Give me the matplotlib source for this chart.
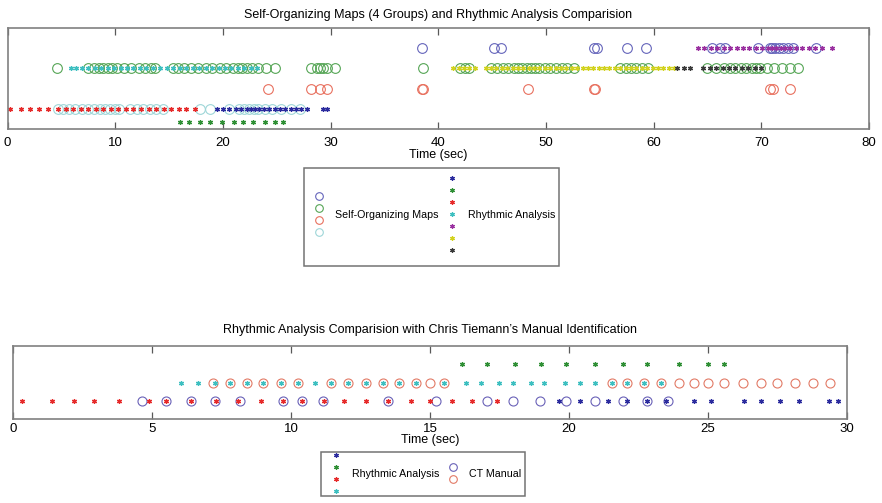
import numpy as np
import matplotlib
matplotlib.use("Agg")
import matplotlib.pyplot as plt
from matplotlib.legend_handler import HandlerBase
from matplotlib.lines import Line2D

plt.rcParams["font.family"] = ["Liberation Sans", "DejaVu Sans"]

# -----------------------------
# top chart: SOM groups (circles) vs rhythmic analysis (stars), time in sec
# -----------------------------
som1_t = [38.5, 45.2, 45.8, 54.5, 54.7, 57.5, 59.3, 65.4, 66.2, 66.6, 69.7, 70.8,
          71.0, 71.3, 71.6, 72.0, 72.5, 72.9, 75.1]
som2_t = [4.6, 7.5, 8.0, 8.5, 8.9, 9.3, 9.7, 10.2, 10.8, 11.5, 12.2, 12.8, 13.3, 13.7,
          15.4, 15.8, 16.4, 17.0, 17.7, 18.4, 19.0, 19.7, 20.3, 20.9, 21.4, 21.8,
          22.2, 22.7, 23.3, 24.0, 24.8, 28.2, 28.7, 29.0, 29.3, 29.7, 30.4, 38.6,
          42.0, 42.5, 42.9, 44.9, 45.5, 46.0, 46.5, 47.0, 47.4, 47.8, 48.2, 48.6,
          49.0, 49.4, 49.9, 50.4, 50.9, 51.5, 52.0, 52.6, 56.9, 57.4, 57.9, 58.4,
          58.9, 59.5, 65.0, 65.8, 66.5, 67.1, 67.6, 68.1, 68.6, 69.1, 69.5, 69.9,
          70.5, 71.2, 71.9, 72.7, 73.4]
som3_t = [24.2, 28.2, 29.0, 29.7, 38.5, 38.6, 48.3, 54.5, 54.6, 70.8, 71.1, 72.7]
som4_t = [4.7, 5.2, 5.7, 6.3, 6.9, 7.5, 8.0, 8.6, 9.1, 9.5, 10.0, 10.4, 11.4, 12.0,
          12.6, 13.2, 13.8, 14.4, 17.9, 18.8, 20.6, 21.5, 22.0, 22.4, 22.9, 23.3,
          23.9, 24.6, 25.4, 26.3, 27.2]

ra_blue_t = [19.5, 20.0, 20.6, 21.2, 21.7, 22.2, 22.6, 23.0, 23.4, 23.8, 24.3, 24.8,
             25.3, 25.8, 26.3, 26.8, 27.3, 27.8, 29.3, 29.7]
ra_green_t = [16.0, 16.9, 17.9, 18.8, 19.9, 21.0, 21.9, 22.8, 23.9, 24.8, 25.6]
ra_red_t = [0.2, 1.3, 2.1, 2.9, 3.8, 4.7, 5.4, 6.1, 6.8, 7.5, 8.2, 8.9, 9.6, 10.3,
            11.0, 11.7, 12.4, 13.1, 13.8, 14.5, 15.2, 15.9, 16.6, 17.4]
ra_cyan_t = [5.9, 6.4, 6.9, 7.5, 8.1, 8.7, 9.3, 9.9, 10.5, 11.1, 11.7, 12.3, 12.9,
             13.5, 14.2, 14.8, 15.4, 16.0, 16.6, 17.2, 17.8, 18.4, 19.0, 19.6, 20.2,
             20.8, 21.4, 22.0, 22.6, 23.2]
ra_purple_t = [64.1, 64.7, 65.3, 65.9, 66.5, 67.1, 67.7, 68.3, 68.9, 69.5, 70.1, 70.6,
               71.0, 71.4, 71.8, 72.2, 72.7, 73.2, 73.8, 74.4, 75.0, 75.6, 76.6]
ra_yellow_t = [41.4, 41.9, 42.4, 42.9, 43.4, 44.4, 44.9, 45.4, 45.9, 46.4, 46.9, 47.4,
               47.9, 48.4, 48.9, 49.4, 49.9, 50.4, 50.9, 51.4, 51.9, 52.4, 52.9, 53.4,
               53.9, 54.4, 54.9, 55.4, 55.9, 56.4, 56.9, 57.4, 57.9, 58.4, 58.9, 59.4,
               59.9, 60.4, 60.9, 61.4, 61.9]
ra_black_t = [62.2, 62.8, 63.4, 64.6, 65.2, 65.8, 66.4, 67.0, 67.6, 68.2, 68.8, 69.4,
              70.0]

# -----------------------------
# bottom chart: rhythmic analysis vs CT manual identification
# -----------------------------
b_ra_red_t = [0.3, 1.4, 2.2, 2.9, 3.8, 4.9, 5.5, 6.4, 7.3, 8.1, 8.9, 9.7, 10.4, 11.2,
              11.9, 12.7, 13.5, 14.3, 15.0, 15.8, 16.5, 17.4]
b_ra_blue_t = [19.65, 20.4, 21.4, 22.1, 22.8, 23.5, 24.5, 25.1, 26.3, 26.9, 27.6, 28.3,
               29.35, 29.7]
b_ra_cyan_t = [6.05, 6.65, 7.25, 7.8, 8.4, 9.0, 9.65, 10.25, 10.85, 11.45, 12.05, 12.7,
               13.3, 13.9, 14.5, 15.5, 16.3, 16.85, 17.5, 18.0, 18.65, 19.1, 19.85,
               20.4, 20.95, 21.55, 22.1, 22.7, 23.3]
b_ra_green_t = [16.15, 17.05, 18.05, 19.0, 19.9, 20.95, 21.95, 22.8, 23.95, 25.0, 25.6]
ct_blue_t = [4.65, 5.5, 6.4, 7.25, 8.15, 9.7, 10.4, 11.15, 13.5, 15.2, 17.05, 18.0,
             18.95, 19.9, 20.95, 21.95, 22.8, 23.55]
ct_red_t = [7.2, 7.8, 8.4, 9.0, 9.65, 10.25, 11.45, 12.05, 12.7, 13.3, 13.9, 14.5,
            15.0, 15.5, 21.55, 22.1, 22.7, 23.3, 23.95, 24.5, 25.0, 25.6, 26.25, 26.9,
            27.5, 28.15, 28.8, 29.4]

top_ticks = [0, 10, 20, 30, 40, 50, 60, 70, 80]
bottom_ticks = [0, 5, 10, 15, 20, 25, 30]

# colours
c_som = ["#6565bb", "#55a555", "#e8705e", "#9ed6d8"]
c_ra = ["#2b2b9e", "#2f8f35", "#e62a2a", "#3dbfc0", "#9a30a0", "#d2d21e", "#3a3a3a"]
c_ct = ["#6a62b8", "#e27a66"]

ASTER = (6, 2, 0)


def circles(ax, t, y, color, ms=7):
    ax.plot(t, np.full(len(t), y), ls="none", marker="o", ms=ms, mfc="none",
            mec=color, mew=0.8)


def stars(ax, t, y, color):
    ax.plot(t, np.full(len(t), y), ls="none", marker=ASTER, ms=3.6,
            mec=color, mew=0.9)


class StackHandler(HandlerBase):
    # draws a tuple of proxy markers as one vertical column, centred on the text
    def __init__(self, step):
        super().__init__()
        self.step = step

    def create_artists(self, legend, orig_handle, xdescent, ydescent,
                       width, height, fontsize, trans):
        n = len(orig_handle)
        cx = -xdescent + width / 2
        cy = 0.33 * fontsize
        out = []
        for i, h in enumerate(orig_handle):
            m = Line2D([cx], [cy + ((n - 1) / 2 - i) * self.step], ls="none",
                       marker=h.get_marker(), ms=h.get_markersize(),
                       mec=h.get_markeredgecolor(), mfc=h.get_markerfacecolor(),
                       mew=h.get_markeredgewidth())
            m.set_transform(trans)
            out.append(m)
        return out


def proxy_circle(c):
    return Line2D([], [], ls="none", marker="o", ms=5.5, mfc="none", mec=c, mew=0.8)


def proxy_star(c):
    return Line2D([], [], ls="none", marker=ASTER, ms=3.2, mec=c, mew=0.9)


def style_axes(ax, ticks, xmax, ylim, pad):
    ax.set_xlim(0, xmax)
    ax.set_ylim(*ylim)
    ax.set_xticks(ticks)
    ax.set_yticks([])
    ax.tick_params(axis="x", direction="in", top=True, length=5, width=0.9,
                   color="0.35", labelsize=9.5, pad=pad)
    for s in ax.spines.values():
        s.set_color("0.5")
        s.set_linewidth(1.2)


fig = plt.figure(figsize=(8.82, 5.03), dpi=100)

# top axes
ax1 = fig.add_axes([7.5 / 882, 1 - 129 / 503, 861.5 / 882, 101 / 503])
circles(ax1, som1_t, 4, c_som[0])
circles(ax1, som2_t, 3, c_som[1])
circles(ax1, som3_t, 2, c_som[2])
circles(ax1, som4_t, 1, c_som[3])
stars(ax1, ra_cyan_t, 3, c_ra[3])
stars(ax1, ra_yellow_t, 3, c_ra[5])
stars(ax1, ra_black_t, 3, c_ra[6])
stars(ax1, ra_purple_t, 4, c_ra[4])
stars(ax1, ra_red_t, 1, c_ra[2])
stars(ax1, ra_blue_t, 1, c_ra[0])
stars(ax1, ra_green_t, 0.35, c_ra[1])
style_axes(ax1, top_ticks, 80, (0, 5), 5.5)
ax1.set_title("Self-Organizing Maps (4 Groups) and Rhythmic Analysis Comparision",
              fontsize=9, pad=7)
ax1.set_xlabel("Time (sec)", fontsize=9, labelpad=0.5)

# bottom axes
ax2 = fig.add_axes([13.3 / 882, 1 - 419 / 503, 833.4 / 882, 73 / 503])
circles(ax2, ct_blue_t, 1, c_ct[0], ms=6.5)
circles(ax2, ct_red_t, 2, c_ct[1], ms=6.5)
stars(ax2, b_ra_red_t, 1, c_ra[2])
stars(ax2, b_ra_blue_t, 1, c_ra[0])
stars(ax2, b_ra_cyan_t, 2, c_ra[3])
stars(ax2, b_ra_green_t, 3, c_ra[1])
style_axes(ax2, bottom_ticks, 30, (0, 4), 3)
ax2.set_title("Rhythmic Analysis Comparision with Chris Tiemann\u2019s Manual Identification",
              fontsize=9, pad=9)
ax2.set_xlabel("Time (sec)", fontsize=9, labelpad=-1)

# legends
leg_kw = dict(loc="upper left", bbox_transform=fig.transFigure, borderaxespad=0,
              fontsize=7.7, frameon=True, fancybox=False, framealpha=1,
              edgecolor="0.45", handlelength=2.05, handletextpad=0.44,
              handler_map={tuple: StackHandler(8.6)})

som_key = tuple(proxy_circle(c) for c in c_som)
ra_key = tuple(proxy_star(c) for c in c_ra)
leg1 = fig.legend([som_key, ra_key], ["Self-Organizing Maps", "Rhythmic Analysis"],
                  bbox_to_anchor=(304 / 882, 1 - 168 / 503), ncol=2,
                  handleheight=12.5, columnspacing=0.25, **leg_kw)
leg1.get_frame().set_linewidth(1.1)

ra_key2 = tuple(proxy_star(c) for c in c_ra[:4])
ct_key = tuple(proxy_circle(c) for c in c_ct)
leg2 = fig.legend([ra_key2, ct_key], ["Rhythmic Analysis", "CT Manual"],
                  bbox_to_anchor=(320.7 / 882, 1 - 452 / 503), ncol=2,
                  handleheight=4.7, columnspacing=0.3, **leg_kw)
leg2.get_frame().set_linewidth(1.1)

fig.savefig("out.png", dpi=100)
